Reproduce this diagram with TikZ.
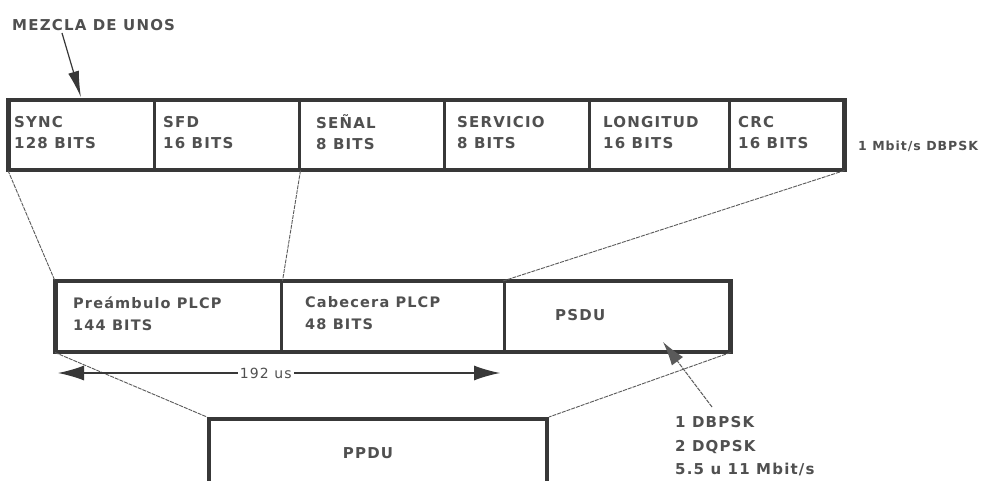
\documentclass[tikz,border=0pt]{standalone}
\usepackage{fontspec}
\setmainfont{DejaVu Sans}
\newfontfamily\labfont[LetterSpace=8]{DejaVu Sans}
\usetikzlibrary{arrows.meta,calc}
\definecolor{boxc}{HTML}{383838}
\definecolor{txtc}{HTML}{505050}
\definecolor{linc}{HTML}{5A5A5A}
\begin{document}
\begin{tikzpicture}[x=1pt,y=-1pt,
  cellbox/.style={draw=boxc, line width=2.5pt, minimum height=68pt, anchor=north west, inner sep=0pt},
  outerbox/.style={draw=boxc, line width=4pt},
  lbl/.style={text=txtc, font=\labfont\bfseries\fontsize{15}{21}\selectfont, align=left, inner sep=0pt, anchor=west, execute at begin node=\rule{0pt}{17pt}},
  conn/.style={draw=linc, line width=0.9pt, dash pattern=on 4pt off 1pt},
  bigtip/.style={-{Latex[length=26pt,width=11pt]}}
]
\useasboundingbox[fill=white] (0,0) rectangle (1005,481);
\clip (0,0) rectangle (1005,481);

% top row
\node[cellbox, minimum width=145pt] (sync) at (8,100) {};
\node[cellbox, minimum width=145pt] (sfd) at (153,100) {};
\node[cellbox, minimum width=145pt] (senal) at (298,100) {};
\node[cellbox, minimum width=145pt] (serv) at (443,100) {};
\node[cellbox, minimum width=140pt] (long) at (588,100) {};
\node[cellbox, minimum width=114pt] (crc) at (728,100) {};
\draw[outerbox] (sync.north west) rectangle (crc.south east);

\node[lbl] (tsync) at ([xshift=6pt,yshift=3pt]sync.west) {SYNC\\128 BITS};
\node[lbl] (tsfd) at ([xshift=10pt,yshift=3pt]sfd.west) {SFD\\16 BITS};
\node[lbl] (tsenal) at ([xshift=18pt,yshift=3pt]senal.west) {SEÑAL\\8 BITS};
\node[lbl] (tserv) at ([xshift=14pt,yshift=3pt]serv.west) {SERVICIO\\8 BITS};
\node[lbl] (tlong) at ([xshift=15pt,yshift=3pt]long.west) {LONGITUD\\16 BITS};
\node[lbl] (tcrc) at ([xshift=10pt,yshift=3pt]crc.west) {CRC\\16 BITS};

\node[lbl, font=\labfont\bfseries\fontsize{12.5}{15}\selectfont, execute at begin node={}] (rate) at (858,143) {1 Mbit/s DBPSK};

% label and arrow
\node[lbl, execute at begin node={}] (mezcla) at (12,22) {MEZCLA DE UNOS};
\coordinate (mzs) at (62,33);
\draw[draw=boxc, line width=1.2pt, bigtip, shorten >=3pt] (mzs) -- (sync.north);

% middle row
\node[cellbox, minimum width=225pt, minimum height=69pt] (pre) at (55,281) {};
\node[cellbox, minimum width=223pt, minimum height=69pt, line width=1.8pt] (cab) at (280,281) {};
\node[cellbox, minimum width=225pt, minimum height=69pt] (psdu) at (503,281) {};
\draw[outerbox] (pre.north west) rectangle (psdu.south east);

\node[lbl, font=\labfont\bfseries\fontsize{14.5}{22}\selectfont] (tpre) at ([xshift=18pt,yshift=3pt]pre.west) {Preámbulo PLCP\\144 BITS};
\node[lbl, font=\labfont\bfseries\fontsize{14.5}{22}\selectfont] (tcab) at ([xshift=25pt,yshift=3pt]cab.west) {Cabecera PLCP\\48 BITS};
\node[lbl, execute at begin node={}] (tpsdu) at ([xshift=52pt,yshift=5pt]psdu.west) {PSDU};

% bottom box
\node[cellbox, minimum width=338pt, minimum height=100pt, line width=4pt] (ppdu) at (207,417) {};
\node[lbl, anchor=center, execute at begin node={}] (tppdu) at (368,450) {PPDU};

% connectors
\draw[conn] (sync.south west) -- (pre.north west);
\draw[conn] (sfd.south east) -- (pre.north east);
\draw[conn] (crc.south east) -- (psdu.north west);
\draw[conn] (pre.south west) -- (ppdu.north west);
\draw[conn] (psdu.south east) -- (ppdu.north east);

% dimension arrow
\coordinate (dl) at (58,373);
\coordinate (dr) at (500,373);
\draw[draw=boxc, line width=1.2pt, {Latex[length=26pt,width=15pt]}-{Latex[length=26pt,width=15pt]}] (dl) -- (dr)
  node[pos=0.47, fill=white, inner sep=2pt, text=txtc, font=\labfont\fontsize{14}{15}\selectfont] (dim) {192 us};

% modulation note
\node[lbl, font=\labfont\bfseries\fontsize{15}{23.5}\selectfont, execute at begin node={}] (mod) at (675,446.5) {1 DBPSK\\2 DQPSK\\5.5 u 11 Mbit/s};
\coordinate (modtail) at (712,407);
\coordinate (modtip) at (663,342);
\draw[draw=linc, line width=1pt, dash pattern=on 4pt off 1pt, -{Latex[length=24pt,width=14pt]}] (modtail) -- (modtip);
\end{tikzpicture}
\end{document}
